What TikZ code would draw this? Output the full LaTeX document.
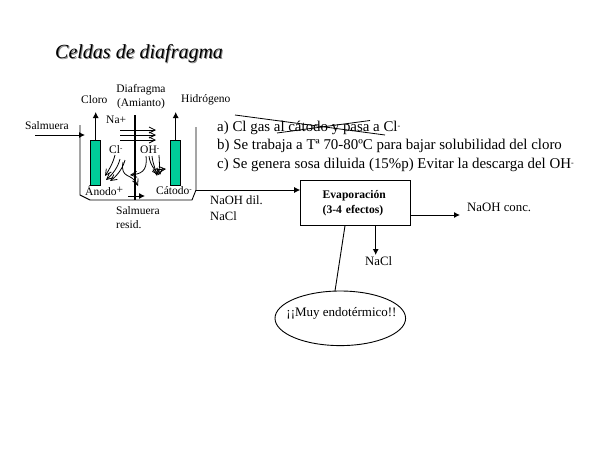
\documentclass[tikz,border=0pt]{standalone}
\usepackage{fontspec}
\setmainfont{Liberation Serif}
\usetikzlibrary{arrows.meta,shapes.geometric}
\definecolor{electrodegreen}{RGB}{0,204,153}
\tikzset{
 lab/.style={inner sep=0pt,anchor=west,font=\fontsize{11.5}{13}\selectfont,text=black},
 labbig/.style={inner sep=0pt,anchor=west,font=\fontsize{12.8}{13}\selectfont,text=black},
 note/.style={inner sep=0pt,anchor=west,font=\fontsize{14.9}{15}\selectfont,text=black},
 flow/.style={line width=0.9pt,-{Latex[length=6pt,width=6pt]}},
 ion/.style={line width=0.8pt,-{Straight Barb[length=6pt,width=6pt]}},
 wall/.style={line width=0.9pt},
 electrode/.style={draw=black,fill=electrodegreen,line width=0.7pt,minimum width=10pt,minimum height=45pt,inner sep=0pt},
}
\begin{document}
\begin{tikzpicture}[x=1pt,y=-1pt]
\useasboundingbox (0,0) rectangle (600,450);
\fill[white] (0,0) rectangle (600,450);
% title
\node[inner sep=0pt,anchor=west,text=black!45,font=\fontsize{20}{22}\selectfont\itshape] at (56,55) {Celdas de diafragma};
\node[inner sep=0pt,anchor=west,font=\fontsize{20}{22}\selectfont\itshape] (title) at (55,54) {Celdas de diafragma};
% electrodes
\node[electrode] (anode) at (95.7,162.5) {};
\node[electrode] (cathode) at (175.7,162.5) {};
% cell
\coordinate (cellL) at (80,125);
\coordinate (cellR) at (196,127);
\coordinate (cellOut) at (196,190);
\draw[wall] (cellL) -- (80,195) -- (90,200) -- (192,200) -- (cellOut) -- (cellR);
% diaphragm
\coordinate (diaT) at (135,115);
\coordinate (diaB) at (135,200);
\draw[line width=1.6pt] (diaT) -- (diaB);
% labels
\node[lab] (cloro) at (81,100) {Cloro};
\node[lab,anchor=center,align=center,font=\fontsize{11.5}{14}\selectfont] (dia) at (141,96.5) {Diafragma\\(Amianto)};
\node[lab] (hidro) at (181,100) {Hidrógeno};
\node[lab] (salm) at (25,126) {Salmuera};
\node[lab] (na) at (106,120) {Na+};
\node[lab] (cl) at (109,150) {Cl\raisebox{3pt}{\fontsize{7}{8}\selectfont -}};
\node[lab] (oh) at (140,150) {OH\raisebox{3pt}{\fontsize{7}{8}\selectfont -}};
\node[lab] (anodo) at (85,191) {Ánodo\raisebox{2pt}{+}};
\node[lab] (catodo) at (156,191) {Cátodo\raisebox{3pt}{\fontsize{7}{8}\selectfont -}};
\node[lab,align=left,font=\fontsize{11.5}{14}\selectfont] (resid) at (116,218) {Salmuera\\resid.};
\node[labbig,align=left,font=\fontsize{12.6}{16}\selectfont] (dil) at (210,208) {NaOH dil.\\NaCl};
% flows in the cell
\coordinate (salmIn) at (35,135);
\coordinate (salmEnd) at (85,135);
\draw[flow] (salmIn) -- (salmEnd);
\coordinate (resA) at (128,196);
\coordinate (resB) at (145,196);
\draw[flow] (resA) -- (resB);
\draw[flow] (anode.north) -- (95.7,112);
\draw[flow] (cathode.north) -- (175.7,112);
% Na+
\foreach \y in {130,135,140}{\draw[ion] (120,\y) -- (156,\y);}
% Cl-
\draw[ion] (115,155) .. controls (113,163) and (109,170) .. (105,176);
\draw[ion] (120,159) .. controls (118,167) and (113,174) .. (106,180);
\draw[ion] (125,160) .. controls (123,168) and (117,176) .. (110,181);
\draw[ion] (123,162) .. controls (120,180) and (132,172) .. (138,186);
% OH-
\draw[ion] (146,156) .. controls (148,172) and (140,174) .. (130,175);
\draw[ion] (149,156) .. controls (150,165) and (155,170) .. (159,175);
\draw[ion] (152,156) .. controls (153,165) and (156,170) .. (157,176);
\draw[ion] (159,155) -- (160,175);
\draw[ion] (153,170) -- (166,169);
% text block
\node[note] (a) at (217,128) {a) Cl gas al cátodo y pasa a Cl\raisebox{3.5pt}{\fontsize{8}{8}\selectfont -}};
\node[note] (b) at (217,146) {b) Se trabaja a Tª 70-80ºC para bajar solubilidad del cloro};
\node[note] (c) at (217,165) {c) Se genera sosa diluida (15\%p) Evitar la descarga del OH\raisebox{3.5pt}{\fontsize{8}{8}\selectfont -}};
\draw[line width=0.8pt] (235,115) -- (385,135);
\draw[line width=0.8pt] (370,120.5) -- (277,133);
% evaporator
\node[draw=black,line width=1pt,minimum width=110pt,minimum height=45.5pt,inner sep=0pt,align=left,text width=66pt,font=\fontsize{11.6}{14.5}\selectfont\bfseries] (evap) at (355.7,203) {Evaporación\\(3-4 efectos)};
\node[labbig] (conc) at (467,207) {NaOH conc.};
\node[labbig] (nacl) at (365,261) {NaCl};
\node[draw=black,ellipse,line width=0.9pt,minimum width=130.6pt,minimum height=54.6pt,inner sep=0pt] (ell) at (340.3,318.3) {};
\node[lab,anchor=center,font=\fontsize{13}{14}\selectfont] (muy) at (341.5,313) {¡¡Muy endotérmico!!};
\draw[flow] (cellOut) -- (evap.west |- cellOut);
\coordinate (concEnd) at (460,215);
\draw[flow] (evap.east |- concEnd) -- (concEnd);
\coordinate (naclEnd) at (375.7,255);
\draw[flow] (evap.south -| naclEnd) -- (naclEnd);
\coordinate (evapFoot) at (345,225.7);
\coordinate (ellTop) at (335,291);
\draw[line width=0.9pt] (evapFoot) -- (ellTop);
\end{tikzpicture}
\end{document}
